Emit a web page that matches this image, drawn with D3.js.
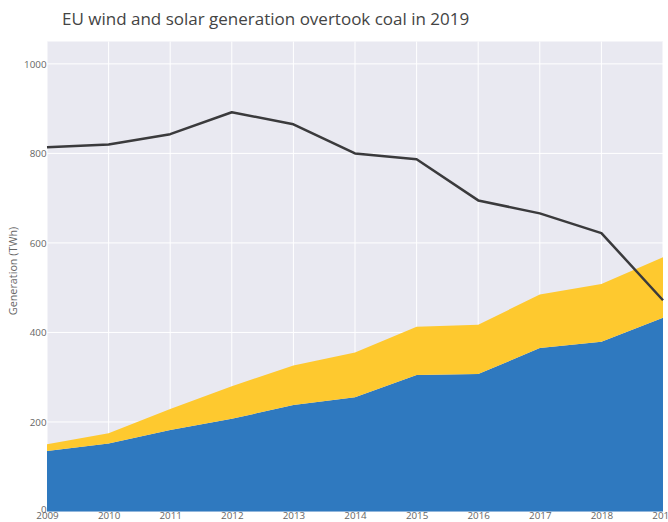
<!DOCTYPE html>
<html>
<head>
<meta charset="utf-8">
<script src="https://cdn.jsdelivr.net/npm/d3@7"></script>
<style>
  html, body { margin: 0; padding: 0; background: #fff; overflow: hidden; }
  svg { display: block; font-family: "Open Sans", sans-serif; }
</style>
</head>
<body>
<svg id="chart" width="668" height="522"></svg>
<script>
const years = [2009, 2010, 2011, 2012, 2013, 2014, 2015, 2016, 2017, 2018, 2019];
const wind  = [135, 152, 182, 207, 238, 255, 305, 307, 365, 379, 433];
const solar = [15, 23, 47, 73, 88, 100, 108, 110, 120, 129, 135];
const coal  = [814, 820, 843, 892, 865, 800, 787, 695, 666, 622, 472];
const yTicks = [0, 200, 400, 600, 800, 1000];
const titleText = "EU wind and solar generation overtook coal in 2019";
const yTitle = "Generation (TWh)";

(function () {
const svg = d3.select("#chart");
const mLeft = 47, mRight = 663, mTop = 41.5, mBottom = 511.5;

const x = d3.scaleLinear().domain([2009, 2019]).range([mLeft, mRight]);
const y = d3.scaleLinear().domain([0, 1050]).range([mBottom, mTop]);

// background
svg.append("rect").attr("x", mLeft).attr("y", mTop)
  .attr("width", mRight - mLeft).attr("height", mBottom - mTop)
  .attr("fill", "#e9e9f1");

// grid
svg.append("g").selectAll("line").data(years).join("line")
  .attr("x1", d => x(d)).attr("x2", d => x(d))
  .attr("y1", mTop).attr("y2", mBottom)
  .attr("stroke", "#ffffff").attr("stroke-width", 1);
svg.append("g").selectAll("line").data(yTicks.filter(d => d > 0)).join("line")
  .attr("x1", mLeft).attr("x2", mRight)
  .attr("y1", d => y(d)).attr("y2", d => y(d))
  .attr("stroke", "#ffffff").attr("stroke-width", 1);

const rows = years.map((yr, i) => ({ year: yr, wind: wind[i], solar: solar[i], coal: coal[i] }));
const stack = d3.stack().keys(["wind", "solar"])(rows);
const colors = { wind: "#2f79bf", solar: "#fec92f" };

const area = d3.area()
  .x(d => x(d.data.year))
  .y0(d => y(d[0]))
  .y1(d => y(d[1]));

svg.append("g").selectAll("path").data(stack).join("path")
  .attr("d", area)
  .attr("fill", s => colors[s.key]);

const line = d3.line().x(d => x(d.year)).y(d => y(d.coal));
svg.append("path").datum(rows)
  .attr("d", line)
  .attr("fill", "none")
  .attr("stroke", "#3a3a3c")
  .attr("stroke-width", 2.5)
  .attr("stroke-linejoin", "round");

// axes
const yAxis = d3.axisLeft(y).tickValues(yTicks).tickFormat(d3.format("d")).tickSize(0).tickPadding(0.5);
const gy = svg.append("g").attr("transform", `translate(${mLeft},0)`).call(yAxis);
gy.select(".domain").remove();
gy.selectAll("text").attr("fill", "#666").attr("font-size", 9.8)
  .attr("font-family", "Open Sans, sans-serif");
gy.selectAll(".tick").filter(d => d === 0).select("text").attr("dy", "0.1em");

const xAxis = d3.axisBottom(x).tickValues(years).tickFormat(d3.format("d")).tickSize(0).tickPadding(1);
const gx = svg.append("g").attr("transform", `translate(0,${mBottom})`).call(xAxis);
gx.select(".domain").remove();
gx.selectAll("text").attr("fill", "#666").attr("font-size", 9.8)
  .attr("font-family", "Open Sans, sans-serif");

// titles
svg.append("text").attr("x", 62).attr("y", 25)
  .attr("font-size", 17).attr("fill", "#444")
  .text(titleText);

svg.append("text")
  .attr("transform", "translate(17,271) rotate(-90)")
  .attr("text-anchor", "middle")
  .attr("font-size", 10.8).attr("fill", "#666")
  .text(yTitle);
})();
</script>
</body>
</html>
